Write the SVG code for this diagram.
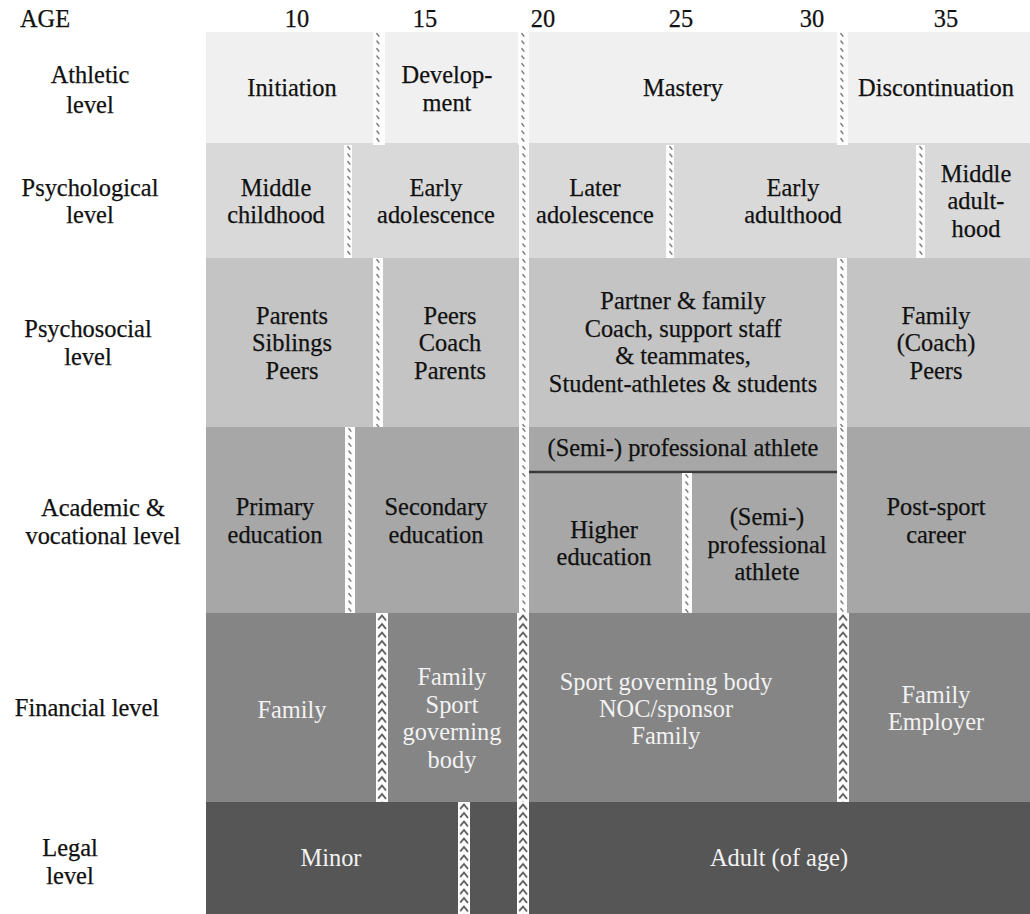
<svg xmlns="http://www.w3.org/2000/svg" width="1030" height="914" viewBox="0 0 1030 914">
<style>
text{font-family:'Liberation Serif','Times New Roman',serif;font-size:24.4px;text-anchor:middle}
.k{fill:#111;stroke:#111;stroke-width:0.25}
.w{fill:#f2f2f2}
.dv{fill:url(#dash)}
.cv{fill:url(#chev)}
</style>
<defs>
<pattern id="dash" patternUnits="userSpaceOnUse" width="10" height="7.5">
<rect width="10" height="7.5" fill="#fdfdfd"/>
<path d="M3.5,1.2 L6.3,4.6" stroke="#6a6a6a" stroke-width="1.3" fill="none"/>
</pattern>
<pattern id="chev" patternUnits="userSpaceOnUse" width="12" height="8.5">
<rect width="12" height="8.5" fill="#fdfdfd"/>
<path d="M2.2,7 L6,2.6 L10,7.4" stroke="#555" stroke-width="1.7" fill="none"/>
</pattern>
</defs>
<rect width="1030" height="914" fill="#fff"/>

<g id="header">
<text class="k" x="45" y="27">AGE</text>
<text class="k" x="297" y="27">10</text>
<text class="k" x="425" y="27">15</text>
<text class="k" x="543" y="27">20</text>
<text class="k" x="681" y="27">25</text>
<text class="k" x="812" y="27">30</text>
<text class="k" x="946" y="27">35</text>
</g>

<g id="row-labels">
<g id="lbl-athletic"><text class="k" x="90" y="83">Athletic</text><text class="k" x="90" y="113">level</text></g>
<g id="lbl-psych"><text class="k" x="90" y="196">Psychological</text><text class="k" x="90" y="223">level</text></g>
<g id="lbl-psychosocial"><text class="k" x="88" y="337">Psychosocial</text><text class="k" x="88" y="365">level</text></g>
<g id="lbl-academic"><text class="k" x="103" y="516">Academic &amp;</text><text class="k" x="103" y="544">vocational level</text></g>
<g id="lbl-financial"><text class="k" x="87" y="716">Financial level</text></g>
<g id="lbl-legal"><text class="k" x="70" y="856">Legal</text><text class="k" x="70" y="884">level</text></g>
</g>

<g id="row-backgrounds">
<rect x="206" y="32" width="824" height="111" fill="#f0f0f0"/>
<rect x="206" y="143" width="824" height="115" fill="#d9d9d9"/>
<rect x="206" y="258" width="824" height="169" fill="#c4c4c4"/>
<rect x="206" y="427" width="824" height="186" fill="#a7a7a7"/>
<rect x="206" y="613" width="824" height="189" fill="#858585"/>
<rect x="206" y="802" width="824" height="112" fill="#565656"/>
</g>

<g id="athletic">
<g id="initiation"><text class="k" x="292" y="96">Initiation</text></g>
<g id="development"><text class="k" x="447" y="83">Develop-</text><text class="k" x="447" y="111">ment</text></g>
<g id="mastery"><text class="k" x="683" y="96">Mastery</text></g>
<g id="discontinuation"><text class="k" x="936" y="96">Discontinuation</text></g>
</g>

<g id="psychological">
<g id="middle-childhood"><text class="k" x="276" y="196">Middle</text><text class="k" x="276" y="223">childhood</text></g>
<g id="early-adolescence"><text class="k" x="436" y="196">Early</text><text class="k" x="436" y="223">adolescence</text></g>
<g id="later-adolescence"><text class="k" x="595" y="196">Later</text><text class="k" x="595" y="223">adolescence</text></g>
<g id="early-adulthood"><text class="k" x="793" y="196">Early</text><text class="k" x="793" y="223">adulthood</text></g>
<g id="middle-adulthood"><text class="k" x="976" y="182">Middle</text><text class="k" x="976" y="209">adult-</text><text class="k" x="976" y="237">hood</text></g>
</g>

<g id="psychosocial">
<g id="ps-1"><text class="k" x="292" y="324">Parents</text><text class="k" x="292" y="351">Siblings</text><text class="k" x="292" y="379">Peers</text></g>
<g id="ps-2"><text class="k" x="450" y="324">Peers</text><text class="k" x="450" y="351">Coach</text><text class="k" x="450" y="379">Parents</text></g>
<g id="ps-3"><text class="k" x="683" y="309">Partner &amp; family</text><text class="k" x="683" y="337">Coach, support staff</text><text class="k" x="683" y="364">&amp; teammates,</text><text class="k" x="683" y="392">Student-athletes &amp; students</text></g>
<g id="ps-4"><text class="k" x="936" y="324">Family</text><text class="k" x="936" y="351">(Coach)</text><text class="k" x="936" y="379">Peers</text></g>
</g>

<g id="academic">
<g id="primary"><text class="k" x="275" y="515">Primary</text><text class="k" x="275" y="543">education</text></g>
<g id="secondary"><text class="k" x="436" y="515">Secondary</text><text class="k" x="436" y="543">education</text></g>
<g id="semi-pro-top"><text class="k" x="683" y="456">(Semi-) professional athlete</text>
<line x1="528" y1="472" x2="837" y2="472" stroke="#3a3a3a" stroke-width="2.5"/></g>
<g id="higher"><text class="k" x="604" y="538">Higher</text><text class="k" x="604" y="565">education</text></g>
<g id="semi-pro"><text class="k" x="767" y="525">(Semi-)</text><text class="k" x="767" y="553">professional</text><text class="k" x="767" y="580">athlete</text></g>
<g id="post-sport"><text class="k" x="936" y="515">Post-sport</text><text class="k" x="936" y="543">career</text></g>
</g>

<g id="financial">
<g id="fin-1"><text class="w" x="292" y="718">Family</text></g>
<g id="fin-2"><text class="w" x="452" y="685">Family</text><text class="w" x="452" y="713">Sport</text><text class="w" x="452" y="740">governing</text><text class="w" x="452" y="768">body</text></g>
<g id="fin-3"><text class="w" x="666" y="690">Sport governing body</text><text class="w" x="666" y="717">NOC/sponsor</text><text class="w" x="666" y="744">Family</text></g>
<g id="fin-4"><text class="w" x="936" y="703">Family</text><text class="w" x="936" y="730">Employer</text></g>
</g>

<g id="legal">
<g id="minor"><text class="w" x="331" y="866">Minor</text></g>
<g id="adult"><text class="w" x="779" y="866">Adult (of age)</text></g>
</g>

<g id="connectors">
<rect class="dv" transform="translate(373,32)" width="12" height="113"/>
<rect class="dv" transform="translate(518,32)" width="11" height="113"/>
<rect class="dv" transform="translate(837,32)" width="11" height="113"/>
<rect class="dv" transform="translate(344,145)" width="8" height="113"/>
<rect class="dv" transform="translate(519,145)" width="10" height="113"/>
<rect class="dv" transform="translate(666,145)" width="8" height="113"/>
<rect class="dv" transform="translate(916,145)" width="9" height="113"/>
<rect class="dv" transform="translate(373,258)" width="10" height="169"/>
<rect class="dv" transform="translate(519,258)" width="10" height="169"/>
<rect class="dv" transform="translate(837,258)" width="10" height="169"/>
<rect class="dv" transform="translate(345,427)" width="10" height="186"/>
<rect class="dv" transform="translate(519,427)" width="10" height="186"/>
<rect class="dv" transform="translate(682,473)" width="10" height="140"/>
<rect class="dv" transform="translate(837,427)" width="10" height="186"/>
<rect class="cv" transform="translate(376,613)" width="12" height="189"/>
<rect class="cv" transform="translate(517,613)" width="12" height="189"/>
<rect class="cv" transform="translate(837,613)" width="12" height="189"/>
<rect class="cv" transform="translate(458,802)" width="12" height="112"/>
<rect class="cv" transform="translate(517,802)" width="12" height="112"/>
</g>
</svg>
